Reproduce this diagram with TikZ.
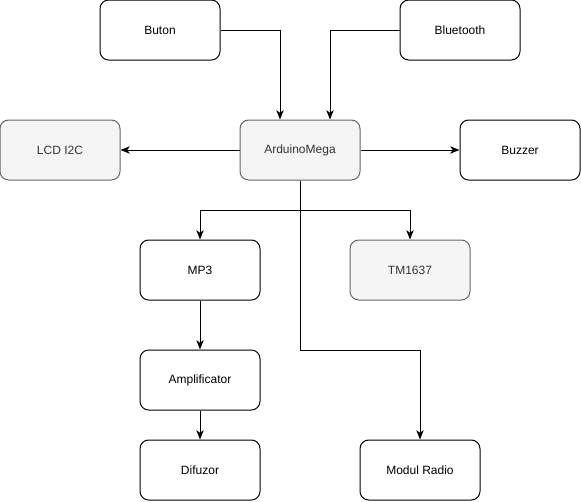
\documentclass[tikz,border=0pt]{standalone}
\usepackage{fontspec}
\setmainfont{Liberation Sans}
\usepackage{xcolor}
\usetikzlibrary{positioning,arrows.meta,calc}
\definecolor{boxgray}{HTML}{F5F5F5}
\definecolor{edgegray}{HTML}{666666}
\definecolor{textgray}{HTML}{333333}

\begin{document}
\begin{tikzpicture}[
  x=0.75pt,y=-0.75pt,
  every node/.style={font=\fontsize{9}{11}\selectfont,align=center},
  block/.style={rectangle,draw=black,rounded corners=6.5pt,minimum width=90pt,
                minimum height=45pt,inner sep=2pt,fill=white,line width=0.75pt},
  grayblk/.style={block,draw=edgegray,fill=boxgray,text=textgray},
  arr/.style ={-{Stealth[length=7pt,width=5.5pt,inset=2pt]},line width=0.75pt,black},
]
\useasboundingbox (0,0) rectangle (581,501);

\node[block]   at (160, 30)  (buton)     {Buton};
\node[block]   at (460, 30)  (bluetooth) {Bluetooth};

\node[grayblk] at ( 60,150)  (lcd)       {LCD I2C};
\node[grayblk] at (300,150)  (arduino)   {ArduinoMega};
\node[block]   at (520,150)  (buzzer)    {Buzzer};

\node[block]   at (200,270)  (mp3)       {MP3};
\node[grayblk] at (410,270)  (tm)        {TM1637};
\node[block]   at (200,380)  (amp)       {Amplificator};
\node[block]   at (200,470)  (difuzor)   {Difuzor};
\node[block]   at (420,470)  (radio)     {Modul Radio};

\draw[arr] (buton.east)     -| ($(arduino.north)+(-20,0)$);
\draw[arr] (bluetooth.west) -| ($(arduino.north)+(30,0)$);
\draw[arr] (arduino.west)   -- (lcd.east);
\draw[arr] (arduino.east)   -- (buzzer.west);
\draw[arr] (arduino.south)  -- ++(0,30) -| (mp3.north);
\draw[arr] (arduino.south)  -- ++(0,30) -| (tm.north);
\draw[arr] (arduino.south)  -- ++(0,170) -| (radio.north);
\draw[arr] (mp3)  -- (amp);
\draw[arr] (amp)  -- (difuzor);
\end{tikzpicture}
\end{document}
